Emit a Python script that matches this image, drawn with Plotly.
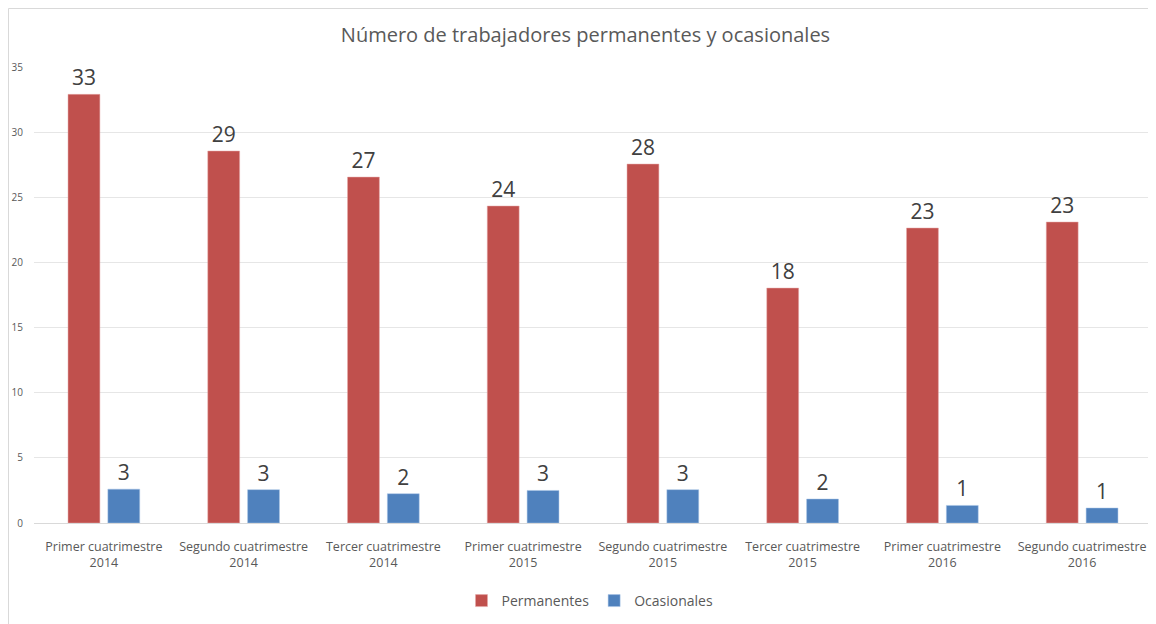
import plotly.graph_objects as go

categories = [
    "Primer cuatrimestre<br>2014", "Segundo cuatrimestre<br>2014", "Tercer cuatrimestre<br>2014",
    "Primer cuatrimestre<br>2015", "Segundo cuatrimestre<br>2015", "Tercer cuatrimestre<br>2015",
    "Primer cuatrimestre<br>2016", "Segundo cuatrimestre<br>2016",
]
permanentes = [32.9, 28.55, 26.55, 24.33, 27.55, 18.03, 22.64, 23.1]
ocasionales = [2.6, 2.56, 2.25, 2.5, 2.56, 1.84, 1.35, 1.15]

# page body has an 8px default margin: figure starts at (8, 8) in the window
OFF = 8
W, H = 1156 - OFF, 624 - OFF
L, T = 34 - OFF, 67 - OFF
R, B = 4, 101
pw, ph = W - L - R, H - T - B


def px_x(p):
    return (p - OFF - L) / pw


def px_y(p):
    return (H - B - (p - OFF)) / ph


label_font = dict(family="Open Sans", size=21, color="#404040")

fig = go.Figure()
fig.add_trace(go.Bar(
    name="Permanentes", x=categories, y=permanentes,
    marker=dict(color="#C0504D", line=dict(color="#E6A9A8", width=0.5)),
    texttemplate="%{y:.0f}", textposition="outside", textfont=label_font,
    cliponaxis=False,
))
fig.add_trace(go.Bar(
    name="Ocasionales", x=categories, y=ocasionales,
    marker=dict(color="#4F81BD", line=dict(color="#A9C4E6", width=0.5)),
    texttemplate="%{y:.0f}", textposition="outside", textfont=label_font,
    cliponaxis=False,
))

fig.update_layout(
    width=W, height=H,
    margin=dict(l=L, r=R, t=T, b=B, autoexpand=False),
    paper_bgcolor="white", plot_bgcolor="white",
    barmode="group", bargap=0.43, bargroupgap=0.2,
    title=dict(text="Número de trabajadores permanentes y ocasionales",
               x=px_x(585.5), xanchor="center", xref="paper",
               y=1 - (35 - OFF) / H, yanchor="middle",
               font=dict(family="Open Sans", size=20, color="#595959")),
    font=dict(family="Open Sans", color="#595959"),
    legend=dict(orientation="h", x=px_x(590), xanchor="center", y=px_y(601), yanchor="middle",
                font=dict(size=14, color="#595959"), traceorder="normal",
                itemwidth=30),
    shapes=[
        dict(type="line", xref="paper", yref="paper", x0=px_x(8.5), x1=px_x(8.5),
             y0=px_y(8.5), y1=px_y(624), line=dict(color="#D9D9D9", width=1)),
        dict(type="line", xref="paper", yref="paper", x0=px_x(8.5), x1=px_x(1156),
             y0=px_y(8.5), y1=px_y(8.5), line=dict(color="#D9D9D9", width=1)),
    ],
)
fig.update_xaxes(showgrid=False, showline=True, linecolor="#D9D9D9", linewidth=1,
                 tickfont=dict(size=12.5, color="#595959"), ticks="",
                 ticklabelstandoff=12)
fig.update_yaxes(range=[0, 35], dtick=5, showgrid=True, gridcolor="#E6E6E6",
                 zeroline=False, showline=False,
                 tickfont=dict(size=10, color="#595959"), ticklabelstandoff=10)

fig.write_html("out.html")
